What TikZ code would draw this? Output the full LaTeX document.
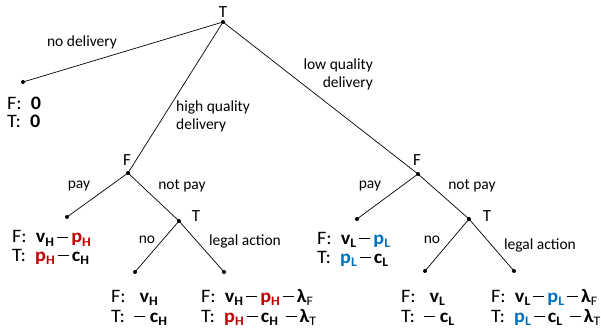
\documentclass[tikz,border=0pt]{standalone}
\usepackage{fontspec}
\setmainfont{Carlito}
\definecolor{pred}{RGB}{192,0,0}
\definecolor{pblue}{RGB}{0,112,192}
\newcommand\sbs[1]{\raisebox{-0.18em}{\fontsize{13}{13}\selectfont #1}}
\newcommand\dsh{\rule[0.24em]{0.55em}{0.09em}}
\newcommand\ms{\hspace{0.15em}\dsh\hspace{0.15em}}
\tikzset{
  dot/.style={circle,fill=black,inner sep=0pt,minimum size=4pt},
  lbl/.style={font=\fontsize{15.5}{18}\selectfont,inner sep=0pt},
  pay/.style={font=\fontsize{19}{20}\selectfont,inner sep=0pt,anchor=base west,xscale=1.06,transform shape,text height=12pt,text depth=2pt},
  edge/.style={line width=0.7pt}
}
\begin{document}
\begin{tikzpicture}[x=1pt,y=-1pt]
\useasboundingbox (0,0) rectangle (601,328);
% decision nodes and leaves
\node[dot] (r) at (223,22) {};
\node[dot] (l0) at (23,82) {};
\node[dot] (fh) at (128,173) {};
\node[dot] (fl) at (418,174) {};
\node[dot] (hp) at (67,217) {};
\node[dot] (th) at (179,221) {};
\node[dot] (hn) at (135,272) {};
\node[dot] (hl) at (224,272) {};
\node[dot] (lp) at (357,219) {};
\node[dot] (tl) at (469,219) {};
\node[dot] (ln) at (425,271) {};
\node[dot] (ll) at (514,271) {};
% edges
\draw[edge] (r.center) -- (l0.center);
\draw[edge] (r.center) -- (fh.center);
\draw[edge] (r.center) -- (fl.center);
\draw[edge] (fh.center) -- (hp.center);
\draw[edge] (fh.center) -- (th.center);
\draw[edge] (th.center) -- (hn.center);
\draw[edge] (th.center) -- (hl.center);
\draw[edge] (fl.center) -- (lp.center);
\draw[edge] (fl.center) -- (tl.center);
\draw[edge] (tl.center) -- (ln.center);
\draw[edge] (tl.center) -- (ll.center);
% player labels
\node[lbl,font=\fontsize{17}{19}\selectfont] (rT) at (223,12) {T};
\node[lbl,font=\fontsize{17}{19}\selectfont] (fhF) at (127,160) {F};
\node[lbl,font=\fontsize{17}{19}\selectfont] (flF) at (417,160) {F};
\node[lbl,font=\fontsize{17}{19}\selectfont] (thT) at (196,216) {T};
\node[lbl,font=\fontsize{17}{19}\selectfont] (tlT) at (487,216) {T};
% action labels
\node[lbl] (a1) at (82,42) {no delivery};
\node[lbl,align=left,anchor=north west] (a2) at (176,101) {high quality\\delivery};
\node[lbl,align=right,anchor=north east] (a3) at (373,59) {low quality\\delivery};
\node[lbl] (a4) at (79,186) {pay};
\node[lbl] (a5) at (182,186) {not pay};
\node[lbl] (a6) at (147,240) {no};
\node[lbl] (a7) at (245,241) {legal action};
\node[lbl] (a8) at (370,186) {pay};
\node[lbl] (a9) at (472,186) {not pay};
\node[lbl] (a10) at (432,240) {no};
\node[lbl] (a11) at (540,245) {legal action};
% payoffs
\node[pay] (p0F) at (7,110) {F:\ \ \textbf{0}};
\node[pay] (p0T) at (7,128) {T:\ \ \textbf{0}};
\node[pay] (p1F) at (12,243) {F:\ \ \textbf{v\sbs{H}\ms\textcolor{pred}{p\sbs{H}}}};
\node[pay] (p1T) at (12,261) {T:\ \ \textbf{\textcolor{pred}{p\sbs{H}}\ms c\sbs{H}}};
\node[pay] (p2F) at (111,302) {F:\ \ \ \textbf{v\sbs{H}}};
\node[pay] (p2T) at (111,322) {T:\ \ \textbf{\dsh\ c\sbs{H}}};
\node[pay] (p3F) at (201,302) {F:\ \ \textbf{v\sbs{H}\ms\textcolor{pred}{p\sbs{H}}\ms λ\sbs{\mdseries F}}};
\node[pay] (p3T) at (201,322) {T:\ \ \textbf{\textcolor{pred}{p\sbs{H}}\ms c\sbs{H}\ \ms λ\sbs{\mdseries T}}};
\node[pay] (p4F) at (317,244) {F:\ \ \textbf{v\sbs{L}\ms\textcolor{pblue}{p\sbs{L}}}};
\node[pay] (p4T) at (317,263) {T:\ \ \textbf{\textcolor{pblue}{p\sbs{L}}\ms c\sbs{L}}};
\node[pay] (p5F) at (401,302) {F:\ \ \ \textbf{v\sbs{L}}};
\node[pay] (p5T) at (401,322) {T:\ \ \textbf{\dsh\ c\sbs{L}}};
\node[pay] (p6F) at (491,302) {F:\ \ \textbf{v\sbs{L}\ms\textcolor{pblue}{p\sbs{L}}\ms λ\sbs{\mdseries F}}};
\node[pay] (p6T) at (491,322) {T:\ \ \textbf{\textcolor{pblue}{p\sbs{L}}\ms c\sbs{L}\ \ms λ\sbs{\mdseries T}}};
\end{tikzpicture}
\end{document}
